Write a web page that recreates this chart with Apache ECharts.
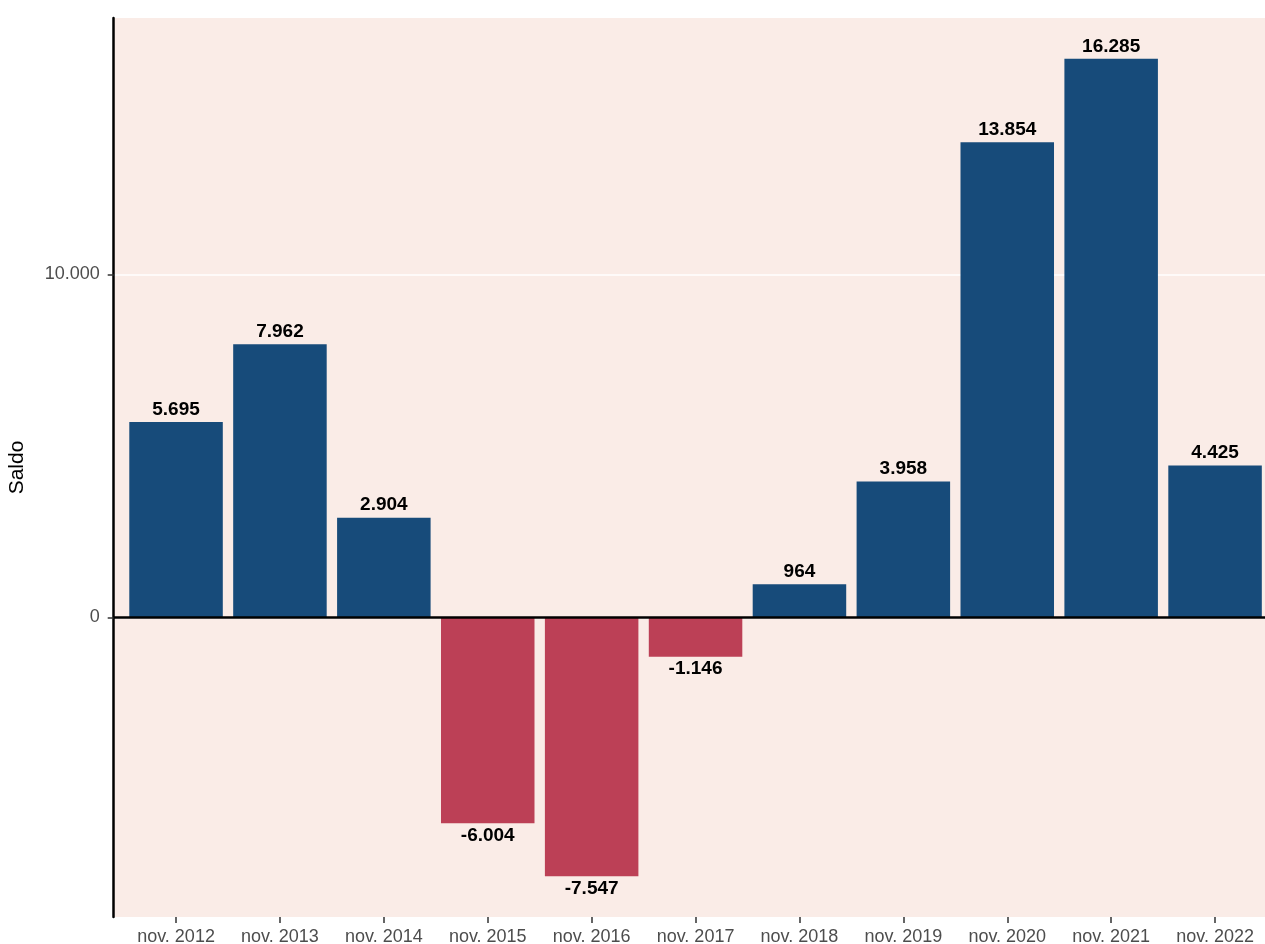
<!DOCTYPE html>
<html>
<head>
<meta charset="utf-8">
<script src="https://cdn.jsdelivr.net/npm/echarts@6/dist/echarts.min.js"></script>
<style>
html,body{margin:0;padding:0;background:#fff;}
#c{width:1265px;height:944px;}
</style>
</head>
<body>
<div id="c"></div>
<script>
const categories = ['nov. 2012','nov. 2013','nov. 2014','nov. 2015','nov. 2016','nov. 2017','nov. 2018','nov. 2019','nov. 2020','nov. 2021','nov. 2022'];
const saldo = [5695, 7962, 2904, -6004, -7547, -1146, 964, 3958, 13854, 16285, 4425];
const yTicks = [0, 10000];
const yTitle = 'Saldo';

const fmt = v => {
  const s = String(Math.abs(v)).replace(/\B(?=(\d{3})+(?!\d))/g, '.');
  return (v < 0 ? '-' : '') + s;
};
const FONT = '"Liberation Sans", Arial, sans-serif';

const data = saldo.map((v, i) => ({
  value: [i, v],
  itemStyle: { color: v >= 0 ? '#174B7A' : '#BC4056' },
  label: { position: v >= 0 ? 'top' : 'bottom' }
}));

const chart = echarts.init(document.getElementById('c'), null, { renderer: 'canvas' });
chart.setOption({
  animation: false,
  backgroundColor: '#ffffff',
  grid: {
    left: 113.7, top: 18, width: 1163.7, height: 899,
    outerBoundsMode: 'none', containLabel: false,
    show: true, backgroundColor: '#FAECE7', borderWidth: 0
  },
  xAxis: {
    type: 'value',
    min: -0.6, max: 10.6,
    axisLine: { show: false, onZero: false },
    splitLine: { show: false },
    axisTick: { show: true, customValues: categories.map((c, i) => i), length: 6, lineStyle: { color: '#333333', width: 1.5 } },
    axisLabel: {
      customValues: categories.map((c, i) => i),
      formatter: v => categories[Math.round(v)],
      color: '#4D4D4D', fontSize: 18, fontFamily: FONT, margin: 11
    }
  },
  yAxis: {
    type: 'value',
    min: -8738.6, max: 17476.6,
    name: yTitle, nameLocation: 'middle', nameRotate: 90, nameGap: 86,
    nameTextStyle: { color: '#000000', fontSize: 21, fontFamily: FONT },
    axisLine: { show: true, onZero: false, lineStyle: { color: '#000000', width: 2.5 } },
    axisTick: { show: true, customValues: yTicks, length: 6, lineStyle: { color: '#333333', width: 1.5 } },
    axisLabel: { customValues: yTicks, formatter: v => fmt(v), color: '#4D4D4D', fontSize: 18, fontFamily: FONT, margin: 14 },
    splitLine: { show: true, lineStyle: { color: '#FFFFFF', width: 1.5 } }
  },
  series: [{
    type: 'bar',
    barWidth: '90%',
    data: data,
    label: {
      show: true,
      formatter: p => fmt(p.value[1]),
      color: '#000000', fontWeight: 'bold', fontSize: 19, fontFamily: FONT, distance: 3
    },
    markLine: {
      silent: true, symbol: 'none', label: { show: false },
      lineStyle: { color: '#000000', width: 2.5, type: 'solid' },
      data: [{ yAxis: 0 }]
    }
  }]
});
</script>
</body>
</html>
